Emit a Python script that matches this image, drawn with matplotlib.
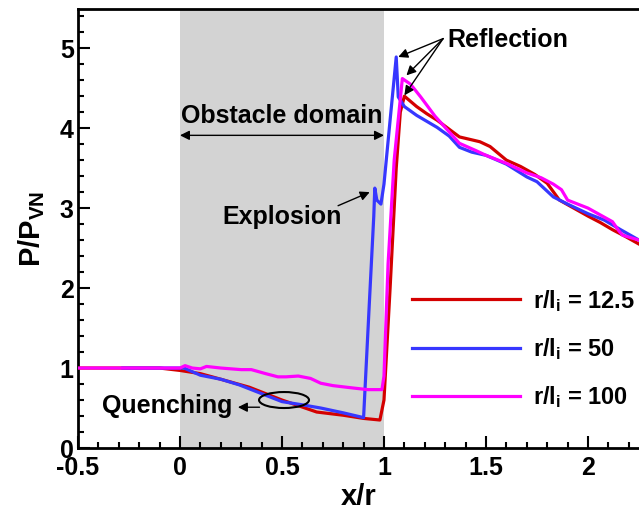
import matplotlib
matplotlib.use("Agg")
import matplotlib.pyplot as plt
from matplotlib.patches import Ellipse
from matplotlib.ticker import MultipleLocator

plt.rcParams['font.family'] = ['Liberation Sans', 'DejaVu Sans']
plt.rcParams['font.weight'] = 'bold'
plt.rcParams['axes.labelweight'] = 'bold'
plt.rcParams['mathtext.default'] = 'regular'

# pressure profiles along the channel, one per obstacle scale r/l_i
x_12 = [-0.5, -0.1, 0.0, 0.1, 0.2, 0.34, 0.5, 0.67, 0.8, 0.9, 0.98, 1.0, 1.03, 1.06, 1.08, 1.10,
        1.16, 1.21, 1.26, 1.37, 1.47, 1.52, 1.60, 1.67, 1.74, 1.80, 1.86, 1.93, 2.0, 2.06, 2.12,
        2.18, 2.25]
p_12 = [1.0, 1.0, 0.97, 0.93, 0.86, 0.76, 0.6, 0.45, 0.41, 0.37, 0.35, 0.6, 2.0, 3.5, 4.2, 4.4,
        4.27, 4.18, 4.1, 3.89, 3.83, 3.77, 3.6, 3.52, 3.42, 3.31, 3.1, 3.0, 2.9, 2.82, 2.73,
        2.65, 2.55]

x_50 = [-0.28, -0.1, 0.02, 0.1, 0.2, 0.29, 0.4, 0.5, 0.6, 0.69, 0.8, 0.9, 0.93, 0.95, 0.955,
        0.965, 0.985, 1.0, 1.03, 1.06, 1.07, 1.10, 1.16, 1.26, 1.32, 1.37, 1.43, 1.5, 1.6, 1.7,
        1.75, 1.83, 1.9, 2.0, 2.08, 2.16, 2.25]
p_50 = [1.0, 1.0, 1.0, 0.91, 0.86, 0.79, 0.68, 0.58, 0.54, 0.5, 0.44, 0.38, 1.9, 2.9, 3.25,
        3.1, 3.05, 3.3, 4.1, 4.89, 4.39, 4.27, 4.16, 4.01, 3.9, 3.76, 3.7, 3.66, 3.55, 3.39,
        3.33, 3.14, 3.05, 2.93, 2.85, 2.73, 2.6]

x_100 = [-0.5, -0.3, 0.0, 0.025, 0.06, 0.1, 0.13, 0.2, 0.3, 0.35, 0.42, 0.48, 0.52, 0.58, 0.64,
         0.69, 0.75, 0.85, 0.92, 0.99, 1.0, 1.02, 1.05, 1.09, 1.13, 1.18, 1.25, 1.37, 1.45, 1.5,
         1.6, 1.7, 1.77, 1.83, 1.87, 1.9, 2.0, 2.12, 2.15, 2.17, 2.25]
p_100 = [1.0, 1.0, 1.0, 1.03, 1.0, 0.99, 1.02, 1.0, 0.98, 0.98, 0.93, 0.89, 0.89, 0.9, 0.87,
         0.81, 0.78, 0.75, 0.73, 0.73, 0.9, 2.3, 3.6, 4.62, 4.55, 4.39, 4.15, 3.81, 3.72, 3.66,
         3.56, 3.44, 3.38, 3.3, 3.23, 3.1, 3.0, 2.83, 2.72, 2.66, 2.6]

labels = ['r/l$_{i}$ = 12.5', 'r/l$_{i}$ = 50', 'r/l$_{i}$ = 100']
colors = ['#d40000', '#3737ff', '#ff00ff']

fig = plt.figure(figsize=(6.39, 5.14), dpi=100)
ax = fig.add_axes([0.122, 0.1284, 0.878, 0.8541])

# obstacle region
ax.axvspan(0, 1, color='#d3d3d3', zorder=0, lw=0)

series = [(x_12, p_12), (x_50, p_50), (x_100, p_100)]
for (xs, ps), c, lab in zip(series, colors, labels):
    ax.plot(xs, ps, color=c, lw=2.3, label=lab, zorder=3)

ax.set_xlim(-0.5, 2.25)
ax.set_ylim(0, 5.49)
ax.xaxis.set_minor_locator(MultipleLocator(0.1))
ax.yaxis.set_major_locator(MultipleLocator(1))
ax.yaxis.set_minor_locator(MultipleLocator(0.2))
ax.set_xticks([-0.5, 0, 0.5, 1, 1.5, 2])
ax.set_xticklabels(['-0.5', '0', '0.5', '1', '1.5', '2'])
ax.tick_params(which='both', direction='in', width=1.5, labelsize=18)
ax.tick_params(which='major', length=8.5)
ax.tick_params(which='minor', length=4.5)
ax.tick_params(axis='x', pad=6)
ax.tick_params(axis='y', pad=3)
for s in ['left', 'bottom', 'top']:
    ax.spines[s].set_linewidth(2)
ax.spines['right'].set_visible(False)

ax.set_xlabel('x/r', fontsize=21, labelpad=2)
ax.set_ylabel('P/P$_{VN}$', fontsize=21, labelpad=9)

leg = ax.legend(loc='center left', bbox_to_anchor=(0.595, 0.2255), frameon=False,
                fontsize=17, handlelength=4.6, handletextpad=0.55, labelspacing=0.95,
                borderpad=0, borderaxespad=0)

arrow = dict(arrowstyle='-|>', color='black', lw=1, mutation_scale=14, shrinkA=0, shrinkB=0)

# reflection peaks
ax.text(1.309, 5.01, 'Reflection', fontsize=18, ha='left', va='baseline')
for tip in [(1.07, 4.89), (1.11, 4.66), (1.10, 4.41)]:
    ax.annotate('', xy=tip, xytext=(1.29, 5.12), arrowprops=arrow)

ax.text(0.5, 4.06, 'Obstacle domain', fontsize=18, ha='center', va='baseline')
ax.annotate('', xy=(0, 3.91), xytext=(1, 3.91),
            arrowprops=dict(arrowstyle='<|-|>', color='black', lw=1, mutation_scale=14,
                            shrinkA=0, shrinkB=0))

ax.text(0.206, 2.8, 'Explosion', fontsize=18, ha='left', va='baseline')
ax.annotate('', xy=(0.93, 3.2), xytext=(0.775, 3.03), arrowprops=arrow)

ax.text(0.255, 0.44, 'Quenching', fontsize=18, ha='right', va='baseline')
ax.add_patch(Ellipse((0.51, 0.6), 0.245, 0.2, fill=False, ec='black', lw=1.5, zorder=4))
ax.annotate('', xy=(0.284, 0.51), xytext=(0.39, 0.51), arrowprops=arrow)

fig.savefig('out.png', dpi=100)
